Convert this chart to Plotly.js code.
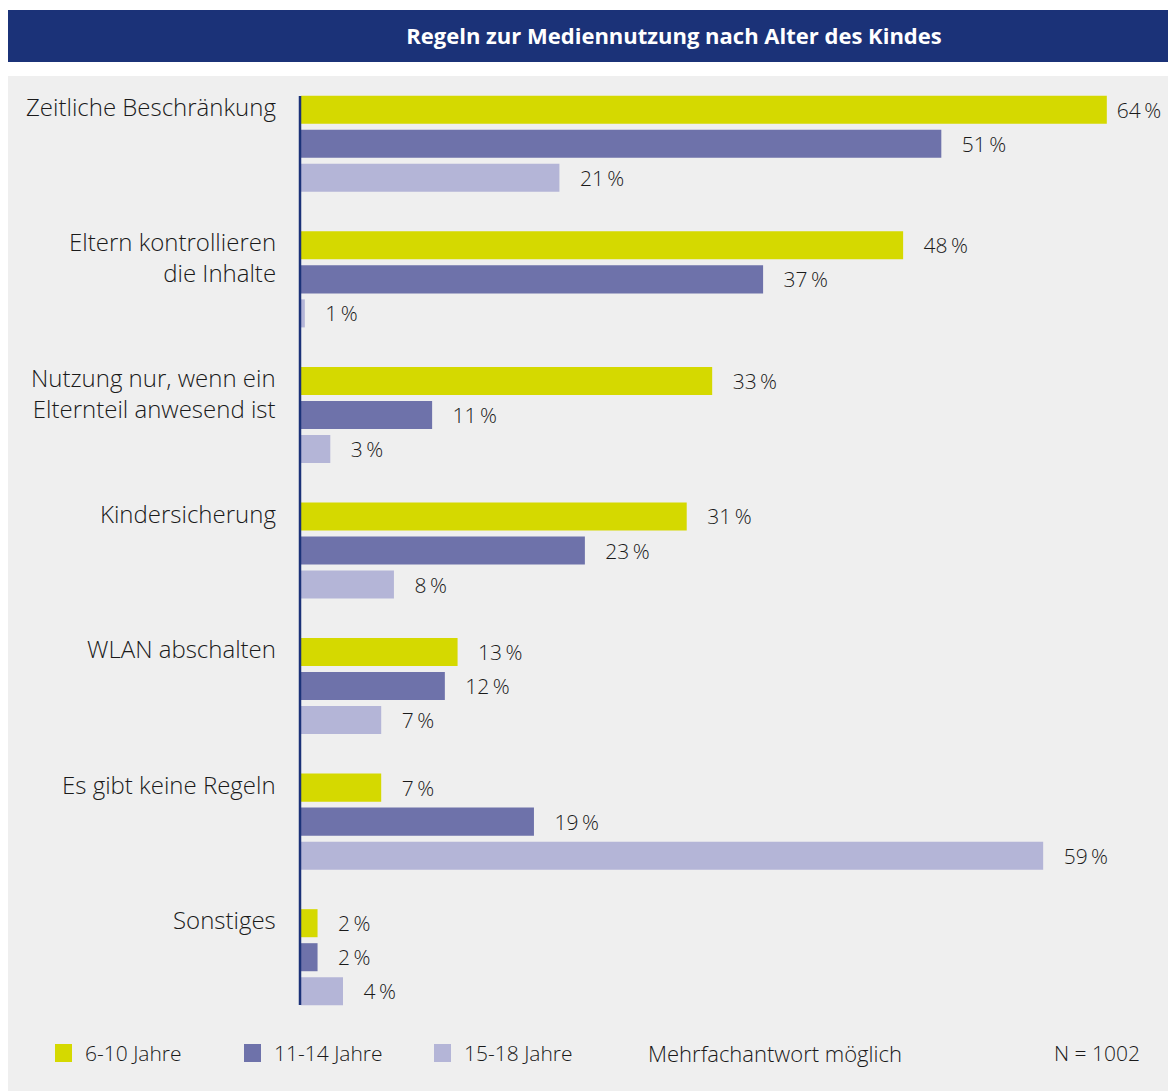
<!DOCTYPE html>
<html>
<head>
<meta charset="utf-8">
<script src="https://cdn.plot.ly/plotly-3.0.1.min.js"></script>
<style>html,body{margin:0;padding:0;background:#fff;}#chart{width:1168px;height:1091px;}</style>
</head>
<body>
<div id="chart"></div>
<script>
const categories = ['Zeitliche Beschränkung', 'Eltern kontrollieren<br>die Inhalte', 'Nutzung nur, wenn ein<br>Elternteil anwesend ist', 'Kindersicherung', 'WLAN abschalten', 'Es gibt keine Regeln', 'Sonstiges'];
const seriesNames = ['6-10 Jahre', '11-14 Jahre', '15-18 Jahre'];
const age6to10 = [64, 48, 33, 31, 13, 7, 2];
const age11to14 = [51, 37, 11, 23, 12, 19, 2];
const age15to18 = [21, 1, 3, 8, 7, 59, 4];
const colors = ['#d5d900', '#6e72aa', '#b4b5d7'];
const titleText = 'Regeln zur Mediennutzung nach Alter des Kindes';
const noteText = 'Mehrfachantwort möglich';
const nText = 'N = 1002';

const W = 1168, H = 1091;
const L = 301, R = 0, T = 76, B = 66;
const pw = W - L - R, ph = H - T - B;
const px = v => (v - L) / pw;          // page x -> paper x
const py = v => (H - B - v) / ph;      // page y -> paper y

const SCALE = 12.73;                    // px per percentage point
const XMIN = 0.7;                       // zero line sits just left of the axis line
const XMAX = XMIN + pw / SCALE;

const FONT = '"Open Sans", "Noto Sans", sans-serif';
const TXT = '#1a1a1a';
const values = [age6to10, age11to14, age15to18];

// label padding: shorter gap when the label would run off the page
const padFor = v => (L + (v - XMIN) * SCALE + 72 > W) ? '\u2009\u2009' : '\u2002\u2009\u2009';

const traces = values.map((vals, i) => ({
  type: 'bar',
  orientation: 'h',
  name: seriesNames[i],
  y: categories,
  x: vals,
  marker: {color: colors[i], line: {width: 0}},
  text: vals.map(v => padFor(v) + v + '\u2009%'),
  texttemplate: '%{text}',
  textposition: 'outside',
  constraintext: 'none',
  cliponaxis: true,
  textfont: {family: FONT, size: 21, color: TXT, weight: 300},
  hoverinfo: 'skip'
}));

const annotations = categories.map(c => ({
  xref: 'paper', yref: 'y', x: px(278), y: c,
  xanchor: 'right', yanchor: 'top', align: 'right',
  yshift: 56, showarrow: false, text: c,
  font: {family: FONT, size: 24, color: TXT, weight: 300}
}));

const legendX = [55, 244, 434];
const legendY = 1053;
const shapes = [
  {type: 'rect', xref: 'paper', yref: 'paper', x0: px(8), x1: px(1168), y0: py(1091), y1: py(76), fillcolor: '#efefef', line: {width: 0}, layer: 'below'},
  {type: 'rect', xref: 'paper', yref: 'paper', x0: px(8), x1: px(1168), y0: py(62), y1: py(10), fillcolor: '#1b3278', line: {width: 0}, layer: 'below'},
  {type: 'line', xref: 'paper', yref: 'paper', x0: px(300), x1: px(300), y0: py(96), y1: py(1005), line: {color: '#1b3278', width: 2.5}}
];
seriesNames.forEach((name, i) => {
  shapes.push({type: 'rect', xref: 'paper', yref: 'paper',
    x0: px(legendX[i]), x1: px(legendX[i] + 17), y0: py(legendY + 9), y1: py(legendY - 9),
    fillcolor: colors[i], line: {width: 0}});
  annotations.push({xref: 'paper', yref: 'paper', x: px(legendX[i] + 28), y: py(legendY),
    xanchor: 'left', yanchor: 'middle', showarrow: false, text: name,
    font: {family: FONT, size: 21, color: TXT, weight: 300}});
});
annotations.push({
  xref: 'paper', yref: 'paper', x: px(646), y: py(legendY), xanchor: 'left', yanchor: 'middle',
  showarrow: false, text: noteText, font: {family: FONT, size: 22, color: TXT, weight: 300}
});
annotations.push({
  xref: 'paper', yref: 'paper', x: px(1142), y: py(legendY), xanchor: 'right', yanchor: 'middle',
  showarrow: false, text: nText, font: {family: FONT, size: 21, color: TXT, weight: 300}
});

const layout = {
  width: W, height: H,
  margin: {l: L, r: R, t: T, b: B, pad: 0},
  paper_bgcolor: '#ffffff',
  plot_bgcolor: 'rgba(0,0,0,0)',
  font: {family: FONT, color: TXT},
  barmode: 'group',
  bargap: 0.247,
  bargroupgap: 0.176,
  title: {
    text: '<b>' + titleText + '</b>',
    xref: 'paper', x: px(674), xanchor: 'center',
    yref: 'container', y: 1 - 36 / H, yanchor: 'middle',
    font: {family: FONT, size: 22, color: '#ffffff'}
  },
  xaxis: {range: [XMIN, XMAX], showticklabels: false, showgrid: false, zeroline: false, showline: false, fixedrange: true},
  yaxis: {type: 'category', range: [6.5, -0.5], showticklabels: false, showgrid: false, zeroline: false, showline: false, fixedrange: true},
  showlegend: false,
  shapes: shapes,
  annotations: annotations
};

Plotly.newPlot('chart', traces, layout, {displayModeBar: false, staticPlot: true});
</script>
</body>
</html>
